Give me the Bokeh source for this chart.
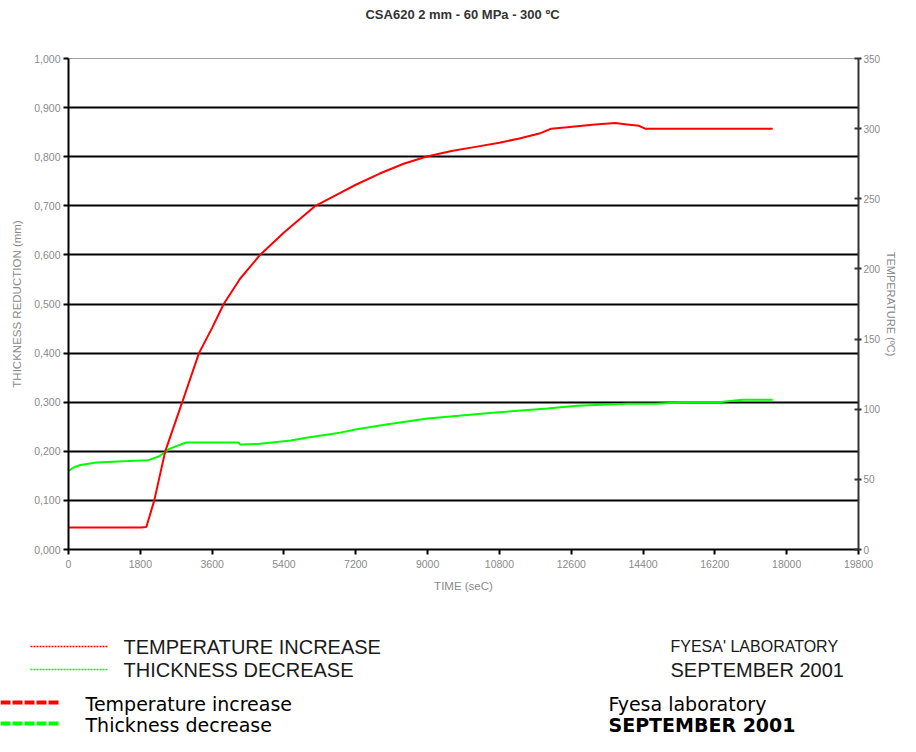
from bokeh.plotting import figure
from bokeh.models import Range1d, LinearAxis, FixedTicker, CustomJSTickFormatter
from bokeh.layouts import column
from bokeh.embed import file_html
from bokeh.resources import INLINE
from bokeh.core.properties import value

# ---------------- data ----------------
title_text = "CSA620 2 mm - 60 MPa - 300 ºC"
x_label = "TIME (seC)"
y_left_label = "THICKNESS REDUCTION (mm)"
y_right_label = "TEMPERATURE (ºC)"

x_ticks = [0, 1800, 3600, 5400, 7200, 9000, 10800, 12600, 14400, 16200, 18000, 19800]
y_ticks = [0.0, 0.1, 0.2, 0.3, 0.4, 0.5, 0.6, 0.7, 0.8, 0.9, 1.0]
grid_ticks = [0.1, 0.2, 0.3, 0.4, 0.5, 0.6, 0.7, 0.8, 0.9]
temp_ticks = [0, 50, 100, 150, 200, 250, 300, 350]

time_temp = [0, 600, 1200, 1800, 1950, 2150, 2425, 2850, 3270, 3600, 3890, 4300, 4800,
             5400, 6190, 6800, 7200, 7800, 8400, 8960, 9600, 10200, 10800, 11300, 11800,
             12100, 12500, 13200, 13700, 14000, 14300, 14450, 15500, 16500, 17650]
temperature = [15.7, 15.7, 15.7, 15.7, 16, 35, 70, 105, 140, 158, 175, 193, 210,
               226, 245, 254, 260, 268, 275, 280, 284, 287, 290, 293, 296.5,
               300, 301, 303, 304, 303, 302, 300, 300, 300, 300]

time_thick = [0, 150, 300, 700, 1500, 2000, 2280, 2525, 2950, 4260, 4300, 4750, 5570,
              6000, 6800, 7230, 8000, 9000, 10700, 12000, 12750, 14000, 14700, 15470,
              16300, 16880, 17650]
thickness = [0.160, 0.168, 0.172, 0.177, 0.180, 0.182, 0.190, 0.205, 0.218, 0.218, 0.214,
             0.215, 0.222, 0.228, 0.238, 0.245, 0.255, 0.267, 0.279, 0.287, 0.293, 0.297,
             0.297, 0.300, 0.300, 0.305, 0.305]

legend_upper = ["TEMPERATURE INCREASE", "THICKNESS DECREASE"]
note_upper = ["FYESA' LABORATORY", "SEPTEMBER 2001"]
legend_lower = ["Temperature increase", "Thickness decrease"]
note_lower = ["Fyesa laboratory", "SEPTEMBER 2001"]
series_colors = ["#ff0000", "#00ff00"]

TICK_GREY = "#8a8a8a"
W = 900

# ---------------- title strip ----------------
t = figure(width=W, height=30, output_backend="svg", toolbar_location=None,
           x_range=Range1d(0, W), y_range=Range1d(30, 0), min_border=0,
           min_border_left=0, min_border_right=0, min_border_top=0, min_border_bottom=0,
           x_axis_location=None, y_axis_location=None, title=None, frame_align=False)
t.grid.visible = False
t.outline_line_color = None
t.text(x=[462], y=[14], text=[title_text], text_font=value("Liberation Sans"),
       text_font_size="13px", text_font_style="bold", text_align="center",
       text_baseline="middle", text_color="#333333")

# ---------------- main chart ----------------
p = figure(width=W, height=570, output_backend="svg", toolbar_location=None, title=None,
           x_range=Range1d(0, 19800), y_range=Range1d(0, 1.0), frame_align=False,
           min_border_left=68, min_border_right=38, min_border_top=28, min_border_bottom=51,
           x_axis_label=x_label, y_axis_label=y_left_label)
p.extra_y_ranges = {"temp": Range1d(0, 350)}
p.outline_line_color = "#a0a0a0"
p.outline_line_width = 1
p.xgrid.visible = False
p.ygrid.ticker = FixedTicker(ticks=grid_ticks)
p.ygrid.grid_line_color = "#000000"
p.ygrid.grid_line_width = 2

for ax in (p.xaxis[0], p.yaxis[0]):
    ax.axis_line_color = "#000000"
    ax.axis_line_width = 2
    ax.major_tick_line_color = "#000000"
    ax.major_tick_line_width = 2
    ax.major_tick_in = 0
    ax.major_tick_out = 5
    ax.minor_tick_line_color = None
    ax.major_label_text_font = "Liberation Sans"
    ax.major_label_text_font_size = "10.5px"
    ax.major_label_text_color = TICK_GREY
    ax.axis_label_text_font = "Liberation Sans"
    ax.axis_label_text_font_size = "11.5px"
    ax.axis_label_text_font_style = "normal"
    ax.axis_label_text_color = TICK_GREY

p.xaxis[0].ticker = FixedTicker(ticks=x_ticks)
p.xaxis[0].major_label_standoff = 5
p.xaxis[0].axis_label_standoff = 9
p.yaxis[0].ticker = FixedTicker(ticks=y_ticks)
p.yaxis[0].formatter = CustomJSTickFormatter(code="return tick.toFixed(3).replace('.', ',');")
p.yaxis[0].major_label_standoff = 3
p.yaxis[0].axis_label_standoff = 8

r_ax = LinearAxis(y_range_name="temp", ticker=FixedTicker(ticks=temp_ticks),
                  axis_label=y_right_label)
r_ax.axis_line_color = "#333333"
r_ax.axis_line_width = 2
r_ax.major_tick_line_color = "#333333"
r_ax.major_tick_line_width = 2
r_ax.major_tick_in = 4
r_ax.major_tick_out = 3
r_ax.minor_tick_line_color = None
r_ax.major_label_text_font = "Liberation Sans"
r_ax.major_label_text_font_size = "10px"
r_ax.major_label_text_color = TICK_GREY
r_ax.major_label_standoff = 2
r_ax.axis_label_text_font = "Liberation Sans"
r_ax.axis_label_text_font_size = "11px"
r_ax.axis_label_text_font_style = "normal"
r_ax.axis_label_text_color = TICK_GREY
r_ax.axis_label_standoff = 2
p.add_layout(r_ax, "right")

p.line(time_thick, thickness, line_color=series_colors[1], line_width=2)
p.line(time_temp, temperature, line_color=series_colors[0], line_width=2, y_range_name="temp")

# ---------------- legend / notes area ----------------
q = figure(width=W, height=136, output_backend="svg", toolbar_location=None, title=None,
           x_range=Range1d(0, W), y_range=Range1d(136, 0), frame_align=False,
           min_border=0, min_border_left=0, min_border_right=0, min_border_top=0,
           min_border_bottom=0, x_axis_location=None, y_axis_location=None)
q.grid.visible = False
q.outline_line_color = None

# upper (small dotted) legend
for i, col in enumerate(series_colors):
    yy = 46 + 23 * i
    q.line([30, 107], [yy, yy], line_color=col, line_width=1.5, line_dash="2 1")
q.text(x=[123, 123], y=[46, 69], text=legend_upper, text_font=value("Liberation Sans"),
       text_font_size="20px", text_baseline="middle", text_color="#1a1a1a")
q.text(x=[670, 670], y=[46, 69], text=note_upper, text_font=value("Liberation Sans"),
       text_font_size=["16px", "20px"], text_baseline="middle", text_color="#1a1a1a")

# lower (thick dashed) legend
for i, col in enumerate(series_colors):
    yy = 102 + 21 * i
    q.line([0, 58], [yy, yy], line_color=col, line_width=4, line_dash="10 2")
q.text(x=[85, 85], y=[103, 124], text=legend_lower, text_font=value("DejaVu Sans"),
       text_font_size="19px", text_baseline="middle", text_color="#000000")
q.text(x=[608], y=[103], text=[note_lower[0]], text_font=value("DejaVu Sans"),
       text_font_size="19px", text_baseline="middle", text_color="#000000")
q.text(x=[608], y=[124], text=[note_lower[1]], text_font=value("DejaVu Sans"),
       text_font_size="19px", text_font_style="bold", text_baseline="middle",
       text_color="#000000")

layout = column(t, p, q, spacing=0)
open("out.html", "w").write(file_html(layout, INLINE))
